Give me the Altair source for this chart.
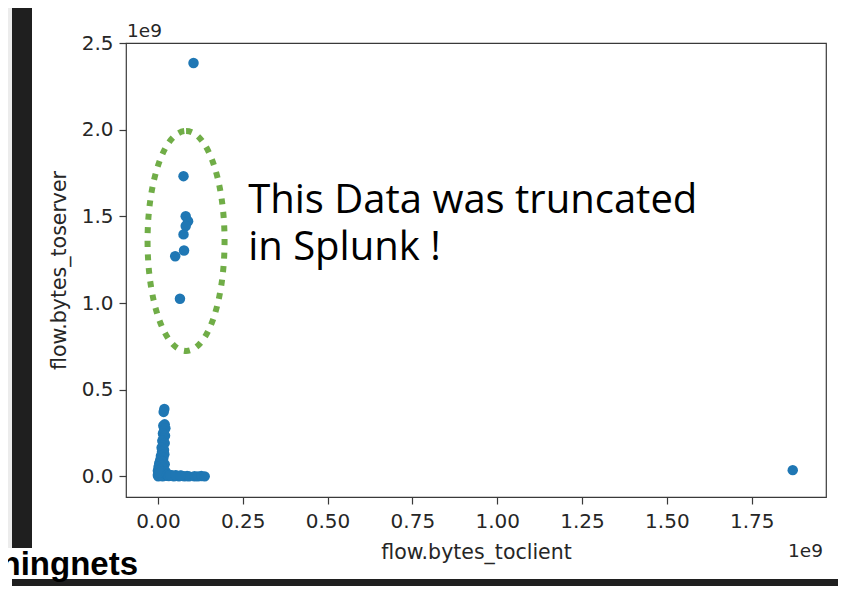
import altair as alt
import pandas as pd

# ---- data (in units of 1e9 bytes) ----
toclient_e9 = [
    0.105, 0.0755, 0.082, 0.089, 0.082, 0.0755, 0.077, 0.051, 0.065, 1.871,
    0.019, 0.017, 0.020, 0.016, 0.022, 0.018, 0.015, 0.021, 0.017, 0.013,
    0.020, 0.015, 0.011, 0.018, 0.012, 0.019, 0.009, 0.016, 0.007, 0.013,
    0.004, 0.020, 0.010, 0.002, 0.015, 0.006, 0.000, 0.022, 0.011, 0.003,
    0.018, 0.000, 0.008, 0.001, 0.025, 0.014, 0.024, 0.009, 0.005, 0.027,
    0.032, 0.040, 0.047, 0.055, 0.062, 0.070, 0.078, 0.086, 0.092,
    0.036, 0.052, 0.066,
    0.108, 0.118, 0.128, 0.138,
]
toserver_e9 = [
    2.385, 1.732, 1.501, 1.472, 1.444, 1.396, 1.303, 1.270, 1.025, 0.036,
    0.389, 0.372, 0.300, 0.292, 0.278, 0.262, 0.248, 0.235, 0.220, 0.205,
    0.192, 0.178, 0.165, 0.152, 0.140, 0.128, 0.118, 0.106, 0.095, 0.085,
    0.076, 0.070, 0.062, 0.054, 0.048, 0.040, 0.033, 0.030, 0.024, 0.018,
    0.014, 0.008, 0.006, 0.000, 0.004, 0.001, 0.012, 0.030, 0.022, 0.010,
    0.002, 0.006, 0.000, 0.003, 0.001, 0.004, 0.000, 0.002, 0.000,
    0.008, 0.007, 0.005,
    0.001, 0.000, 0.002, 0.000,
]

x_tick_e9 = [0.0, 0.25, 0.5, 0.75, 1.0, 1.25, 1.5, 1.75]
y_tick_e9 = [0.0, 0.5, 1.0, 1.5, 2.0, 2.5]
x_domain_e9 = [-0.094, 1.969]
y_domain_e9 = [-0.119, 2.5]

note_lines = ["This Data was truncated", "in Splunk !"]
note_pos_e9 = [0.266, 1.519]
ellipse_pos_e9 = [0.083, 1.358]

E9 = 1e9
points = pd.DataFrame({
    "toclient": [v * E9 for v in toclient_e9],
    "toserver": [v * E9 for v in toserver_e9],
})

W, H = 700, 454
INK = "#262626"
DARK = "#1f1f1f"

x_scale = alt.Scale(domain=[v * E9 for v in x_domain_e9], zero=False, nice=False)
y_scale = alt.Scale(domain=[v * E9 for v in y_domain_e9], zero=False, nice=False)

x_enc = alt.X(
    "toclient:Q", scale=x_scale, title="flow.bytes_toclient",
    axis=alt.Axis(values=[v * E9 for v in x_tick_e9],
                  labelExpr="format(datum.value / 1e9, '.2f')",
                  labelPadding=7, titlePadding=11),
)
y_enc = alt.Y(
    "toserver:Q", scale=y_scale, title="flow.bytes_toserver",
    axis=alt.Axis(values=[v * E9 for v in y_tick_e9],
                  labelExpr="format(datum.value / 1e9, '.1f')",
                  labelPadding=6, titlePadding=12),
)

one = pd.DataFrame({"a": [0]})


def band(x0, x1, y0, y1, color):
    return alt.Chart(one).mark_rect(color=color).encode(
        x=alt.value(x0), x2=alt.value(x1), y=alt.value(y0), y2=alt.value(y1)
    )


frame = alt.layer(
    band(-118, -114, -35, 505, "#ececec"),
    band(-114, -94, -35, 505, DARK),
    band(-114, 712, 536, 543, DARK),
)

scatter = alt.Chart(points).mark_circle(
    size=110, color="#1f77b4", opacity=1
).encode(x=x_enc, y=y_enc)

k = 0.5523
rx = 0.35
ellipse_path = (
    f"M0,-1 C{k*rx:.4f},-1 {rx},-{k:.4f} {rx},0 "
    f"C{rx},{k:.4f} {k*rx:.4f},1 0,1 "
    f"C-{k*rx:.4f},1 -{rx},{k:.4f} -{rx},0 "
    f"C-{rx},-{k:.4f} -{k*rx:.4f},-1 0,-1 Z"
)
ellipse_df = pd.DataFrame({
    "toclient": [ellipse_pos_e9[0] * E9],
    "toserver": [ellipse_pos_e9[1] * E9],
})
ellipse = alt.Chart(ellipse_df).mark_point(
    shape=ellipse_path, size=48400, filled=False, opacity=1,
    stroke="#70ad47", strokeWidth=6, strokeDash=[6, 7.5], strokeCap="butt",
).encode(x="toclient:Q", y="toserver:Q")

note_df = pd.DataFrame({
    "toclient": [note_pos_e9[0] * E9],
    "toserver": [note_pos_e9[1] * E9],
    "label": ["\n".join(note_lines)],
})
note = alt.Chart(note_df).mark_text(
    align="left", baseline="alphabetic", font="Open Sans", fontSize=40,
    lineHeight=47, lineBreak="\n", color="black",
).encode(x="toclient:Q", y="toserver:Q", text="label:N")

offset_top = alt.Chart(one).mark_text(
    text="1e9", align="left", baseline="alphabetic", font="DejaVu Sans",
    fontSize=18.5, color=INK,
).encode(x=alt.value(1), y=alt.value(-6))
offset_right = alt.Chart(one).mark_text(
    text="1e9", align="right", baseline="alphabetic", font="DejaVu Sans",
    fontSize=18.5, color=INK,
).encode(x=alt.value(697), y=alt.value(514))

slide_text = alt.Chart(one).mark_text(
    text="hingnets", align="right", baseline="alphabetic",
    font="Liberation Sans", fontWeight="bold", fontSize=33, color="black",
).encode(x=alt.value(12), y=alt.value(532))

chart = alt.layer(
    frame, scatter, ellipse, note, offset_top, offset_right, slide_text
).properties(
    width=W, height=H,
    autosize=alt.AutoSizeParams(type="none"),
    padding={"left": 118, "top": 35, "right": 12, "bottom": 89},
    background="white",
).configure_view(
    stroke="#3a3a3a", strokeWidth=1.2, fill="white"
).configure_axis(
    grid=False, domain=False,
    tickColor="#3a3a3a", tickWidth=1.2, tickSize=7,
    labelFont="DejaVu Sans", labelFontSize=20, labelColor=INK,
    labelFlush=False, labelOverlap=False,
    titleFont="DejaVu Sans", titleFontSize=20.5, titleFontWeight="normal",
    titleColor=INK,
)

chart.save("out.html", embed_options={"renderer": "svg", "actions": False})
